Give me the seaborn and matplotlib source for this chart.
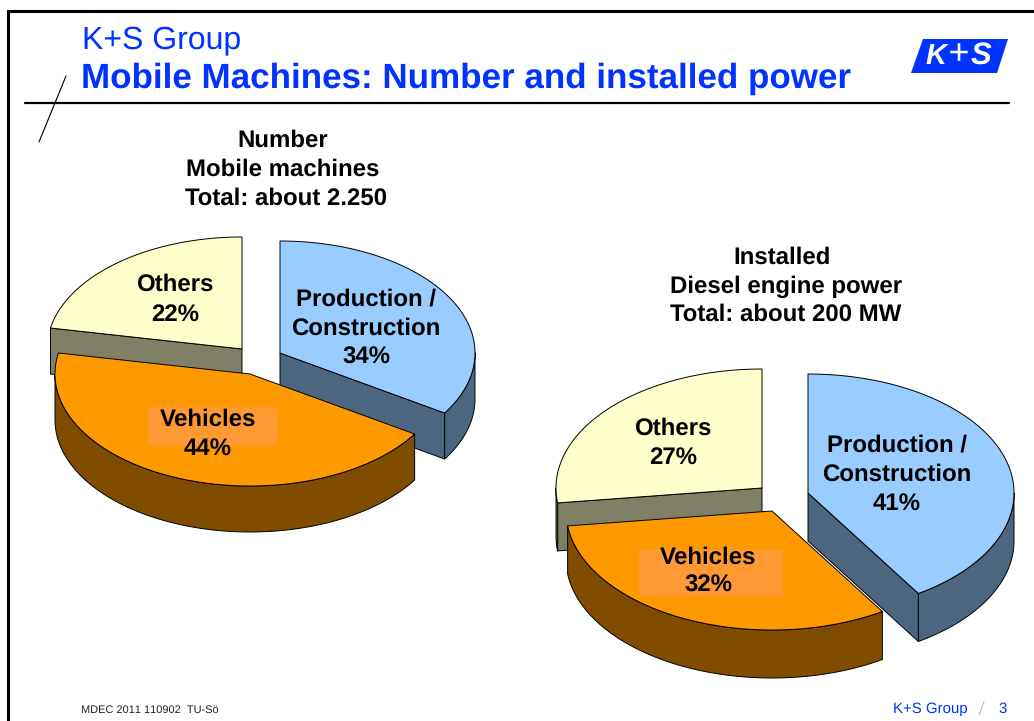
import matplotlib
matplotlib.use("Agg")
import matplotlib.pyplot as plt
import numpy as np
import seaborn as sns

# Data
categories = ["Production /\nConstruction", "Vehicles", "Others"]
number_shares = [34, 44, 22]
power_shares = [41, 32, 27]
slice_colors = ["#99CCFF", "#FF9900", "#FFFFCC"]

BLUE = "#0033FF"


def rim_point(apex, radii, t):
    # t in degrees, clockwise from the top of the pie
    t = np.radians(t)
    return apex[0] + radii[0] * np.sin(t), apex[1] - radii[1] * np.cos(t)


def draw_slice(ax, apex, radii, depth, t0, t1, color):
    side = tuple(c * 0.5 for c in color)
    edge = dict(edgecolor="black", linewidth=0.7, joinstyle="round")

    # cut faces which look towards the viewer
    for t, visible in ((t0, np.sin(np.radians(t0)) < 0),
                       (t1, np.sin(np.radians(t1)) > 0)):
        if visible:
            x, y = rim_point(apex, radii, t)
            ax.fill([apex[0], x, x, apex[0]],
                    [apex[1], y, y + depth, apex[1] + depth],
                    facecolor=side, **edge)

    # outer wall, front half only
    a, b = max(t0, 90), min(t1, 270)
    if a < b:
        ts = np.linspace(a, b, 120)
        x, y = rim_point(apex, radii, ts)
        ax.fill(np.r_[x, x[::-1]], np.r_[y, (y + depth)[::-1]],
                facecolor=side, **edge)

    # top
    ts = np.linspace(t0, t1, 240)
    x, y = rim_point(apex, radii, ts)
    ax.fill(np.r_[apex[0], x], np.r_[apex[1], y], facecolor=color, **edge)


def draw_pie(ax, shares, apexes, radii, depth):
    colors = sns.color_palette(slice_colors)
    ends = np.cumsum(shares) * 3.6
    starts = np.r_[0, ends[:-1]]
    # vehicles slice lies on top of the others
    for i in (0, 2, 1):
        draw_slice(ax, apexes[i], radii, depth, starts[i], ends[i], colors[i])


def put_lines(ax, lines, size=17.1, color="black", weight="bold"):
    for x, y, s in lines:
        ax.text(x, y + 2, s, ha="center", va="center", fontsize=size,
                color=color, fontweight=weight)


def main():
    sns.set_theme(style="white")
    plt.rcParams["font.family"] = ["Liberation Sans", "DejaVu Sans"]
    plt.rcParams["text.hinting"] = "no_hinting"
    plt.rcParams["text.hinting_factor"] = 1

    fig = plt.figure(figsize=(10.34, 7.21), dpi=100, facecolor="white")
    ax = fig.add_axes([0, 0, 1, 1])
    ax.set_xlim(0, 1034)
    ax.set_ylim(721, 0)
    ax.axis("off")

    # slide frame and header
    ax.plot([7.5, 7.5, 1034], [721, 10.5, 10.5], color="black", lw=2.2,
            solid_joinstyle="miter")
    ax.plot([25, 1009], [103, 103], color="black", lw=1.6)
    ax.plot([66, 39], [76, 142], color="black", lw=0.8)

    ax.text(82, 40, "K+S Group", fontsize=22.7, color=BLUE, va="center")
    ax.text(81, 79, "Mobile Machines: Number and installed power",
            fontsize=25, color=BLUE, fontweight="bold", va="center")

    # logo
    ax.fill([923, 1008, 997, 911], [39, 39, 73, 73], color=BLUE, lw=0)
    ax.text(936, 56, "K", color="white", fontsize=21, fontweight="bold",
            fontstyle="italic", ha="center", va="center")
    ax.text(958, 55, "+", color="white", fontsize=26, fontstyle="italic",
            ha="center", va="center")
    ax.text(981, 56, "S", color="white", fontsize=22, fontweight="bold",
            fontstyle="italic", ha="center", va="center")

    # left pie
    draw_pie(ax, number_shares, [(280, 353), (250, 374), (242, 349)], (195, 112), 46)
    ax.fill([148, 277, 277, 148], [407, 407, 445, 445], color="#FF9933", lw=0)
    put_lines(ax, [(283, 139, "Number"),
                   (283, 168, "Mobile machines"),
                   (286, 197, "Total: about 2.250")])
    put_lines(ax, [(366, 297, categories[0].split("\n")[0]),
                   (366, 327, categories[0].split("\n")[1]),
                   (366, 356, f"{number_shares[0]}%"),
                   (208, 418, categories[1]),
                   (208, 447, f"{number_shares[1]}%"),
                   (175, 283, categories[2]),
                   (175, 313, f"{number_shares[2]}%")])

    # right pie
    draw_pie(ax, power_shares, [(808, 493), (772, 511), (762, 488)], (206, 119), 48)
    ax.fill([639, 783, 783, 639], [550, 550, 596, 596], color="#FF9933", lw=0)
    put_lines(ax, [(782, 256, "Installed"),
                   (786, 285, "Diesel engine power"),
                   (786, 313, "Total: about 200 MW")])
    put_lines(ax, [(897, 443, categories[0].split("\n")[0]),
                   (897, 473, categories[0].split("\n")[1]),
                   (897, 502, f"{power_shares[0]}%"),
                   (708, 556, categories[1]),
                   (708, 584, f"{power_shares[1]}%"),
                   (673, 427, categories[2]),
                   (673, 456, f"{power_shares[2]}%")])

    # footer
    ax.text(81, 710, "MDEC 2011 110902  TU-Sö", fontsize=7.7, color="#222222",
            va="center")
    ax.text(893, 709, "K+S Group", fontsize=11, color=BLUE, va="center")
    ax.plot([979, 984], [715, 702], color="#B0B8D8", lw=0.8)
    ax.text(1003, 709, "3", fontsize=11, color=BLUE, va="center", ha="center")

    fig.savefig("out.png", dpi=100)


if __name__ == "__main__":
    main()
